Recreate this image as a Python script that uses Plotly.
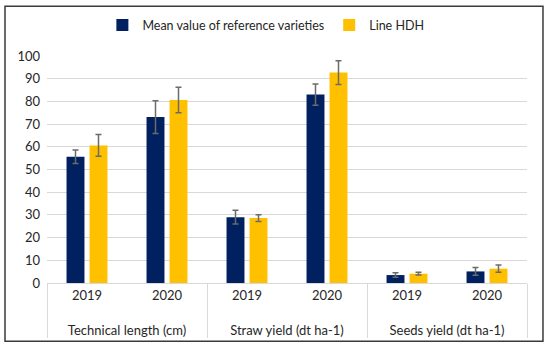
import plotly.graph_objects as go

groups = ["<br>Technical length (cm)", "<br>Technical length (cm)",
          "<br>Straw yield (dt ha-1)", "<br>Straw yield (dt ha-1)",
          "<br>Seeds yield (dt ha-1)", "<br>Seeds yield (dt ha-1)"]
years = ["2019", "2020", "2019", "2020", "2019", "2020"]

ref_values = [55.6, 73.1, 29.0, 83.0, 3.5, 5.1]
ref_errors = [3.0, 7.2, 3.0, 4.7, 1.0, 1.7]
hdh_values = [60.6, 80.6, 28.6, 92.7, 4.1, 6.3]
hdh_errors = [4.8, 5.6, 1.5, 5.2, 0.6, 1.6]

series_names = ["Mean value of reference varieties", "Line HDH"]
colors = ["#002060", "#FFC000"]
y_ticks = [0, 10, 20, 30, 40, 50, 60, 70, 80, 90, 100]

FONT = "Lato, Calibri, Carlito, sans-serif"

fig = go.Figure()
for name, vals, errs, col in zip(series_names, [ref_values, hdh_values],
                                  [ref_errors, hdh_errors], colors):
    fig.add_trace(go.Bar(
        x=[groups, years], y=vals, name=name,
        marker=dict(color=col, line=dict(width=0)),
        error_y=dict(type="data", array=errs, visible=True,
                     color="#6b6b6b", thickness=1.5, width=3),
    ))

fig.update_layout(
    width=550, height=348,
    margin=dict(l=47, r=23, t=55, b=65),
    paper_bgcolor="white", plot_bgcolor="white",
    barmode="group", bargap=0.425, bargroupgap=0.22,
    font=dict(family=FONT, size=13, color="#262626"),
    showlegend=True,
    legend=dict(orientation="h", x=0.456, y=1.13, xanchor="center",
                yanchor="middle", font=dict(size=12.5, color="#262626"),
                traceorder="normal", itemwidth=30,
                bgcolor="rgba(0,0,0,0)"),
    xaxis=dict(type="multicategory", showline=True, linecolor="#d9d9d9",
               linewidth=1, ticks="", showgrid=False,
               showdividers=True, dividercolor="#d9d9d9", dividerwidth=1,
               tickfont=dict(size=13, color="#262626")),
    yaxis=dict(range=[0, 100], tickvals=y_ticks, showgrid=True,
               gridcolor="#d9d9d9", gridwidth=1, zeroline=False,
               showline=False, ticks="", ticklabelstandoff=6,
               tickfont=dict(size=13, color="#262626")),
    shapes=[dict(type="rect", xref="paper", yref="paper",
                 x0=-0.0875, x1=1.0333, y0=-0.257, y1=1.219,
                 line=dict(color="#3a3a3a", width=1.5),
                 fillcolor="rgba(0,0,0,0)", layer="above")],
)

fig.write_html("out.html", config={"displayModeBar": False},
               post_script="document.body.style.margin='0';")
